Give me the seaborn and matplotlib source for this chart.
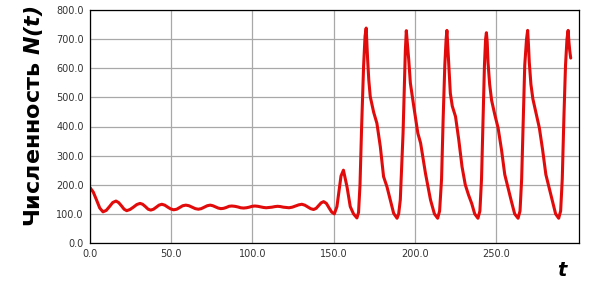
import matplotlib
matplotlib.use("Agg")
import matplotlib.pyplot as plt
import seaborn as sns

# Данные
t_vals = [0, 2, 4, 6, 8, 10, 12, 14, 16, 17.6, 19.3, 21, 22.6, 24.6, 26.7, 28.8,
          30.8, 32.4, 34.1, 35.8, 37.4, 39.1, 40.8, 42.5, 44.2, 46, 47.9, 49.7,
          51.5, 53.4, 55.3, 57.1, 59, 60.9, 62.9, 64.8, 66.7, 68.5, 70.4, 72.2,
          74, 75.6, 77.3, 78.9, 80.5, 82.2, 83.9, 85.6, 87.3, 89.1, 90.9, 92.7,
          94.5, 96.3, 98, 99.8, 101.5, 103.3, 105, 106.8, 108.5, 110.3, 112,
          113.8, 115.5, 117.3, 119, 120.8, 122.5, 124.5, 126.5, 128.5, 130.4,
          132.2, 134, 135.8, 137.6, 139.2, 140.7, 142.3, 143.8, 145.5, 147.1,
          148.8, 150.4, 152, 153.2, 154.5, 156, 158.2, 160.2, 162.2, 164.3,
          # цикл 1
          165.3, 166.2, 167.2, 168.4, 169.3, 170, 170.4, 170.9, 171.6, 172.5,
          174.6, 176.6, 178.7, 180.7, 182.8, 184.8, 186.9, 189,
          # цикл 2
          190, 191, 192.7, 194.1, 194.7, 195.3, 196.2, 197.2, 199.3, 201.8,
          203.5, 206.5, 209.6, 212, 214,
          # цикл 3
          215.2, 216.4, 217.4, 218.4, 219.2, 219.7, 220.2, 220.8, 221.8, 223,
          225, 227, 229, 231, 233, 235, 236.8, 238.8,
          # цикл 4
          240, 241, 242, 242.8, 243.5, 244, 244.5, 245, 246, 247.2, 249.2,
          251.2, 253.3, 255.3, 257.3, 259.3, 261.4, 263.5,
          # цикл 5
          264.7, 265.7, 266.7, 267.6, 268.7, 269.4, 269.9, 270.4, 271.4, 272.6,
          274.6, 276.6, 278.6, 280.6, 282.6, 284.6, 286.6, 288.5,
          # цикл 6
          289.7, 290.7, 291.7, 292.7, 293.6, 294.3, 294.8, 295.3, 295.9]

n_vals = [190, 175, 148, 120, 107, 112, 125, 139, 144, 139, 128, 116, 111, 115,
          123, 132, 136, 133, 125, 116, 113, 116, 123, 130, 133, 130, 123, 117,
          114, 116, 122, 128, 130, 128, 123, 118, 116, 118, 123, 128, 130, 128,
          124, 120, 118, 119, 122, 126, 127, 126, 124, 121, 120, 121, 123, 126,
          127, 126, 124, 122, 121, 122, 123, 125, 126, 125, 123, 122, 121, 123,
          127, 131, 133, 130, 124, 118, 115, 119, 128, 138, 142, 136, 121, 106,
          100, 125, 175, 230, 250, 193, 125, 100, 86,
          # цикл 1
          105, 200, 400, 606, 710, 738, 690, 629, 560, 503, 449, 411, 331, 228,
          193, 148, 102, 85,
          # цикл 2
          100, 148, 377, 659, 729, 690, 629, 549, 469, 377, 343, 239, 148, 100,
          85,
          # цикл 3
          110, 220, 430, 610, 700, 730, 680, 620, 514, 470, 434, 354, 262, 200,
          165, 135, 100, 85,
          # цикл 4
          110, 220, 430, 610, 700, 722, 690, 620, 545, 490, 440, 395, 320, 235,
          190, 145, 100, 85,
          # цикл 5
          110, 220, 430, 610, 700, 730, 680, 620, 545, 495, 445, 395, 320, 235,
          190, 145, 100, 85,
          # цикл 6
          110, 220, 430, 610, 700, 730, 690, 660, 635]

x_ticks = [0, 50, 100, 150, 200, 250]
y_ticks = [0, 100, 200, 300, 400, 500, 600, 700, 800]

sns.set_style("white")
plt.rcParams['font.family'] = ['DejaVu Sans']
plt.rcParams['mathtext.fontset'] = 'custom'
plt.rcParams['mathtext.rm'] = 'DejaVu Sans:bold:italic'
plt.rcParams['mathtext.it'] = 'DejaVu Sans:bold:italic'

fig = plt.figure(figsize=(5.9, 2.84), dpi=100)
ax = fig.add_axes([90 / 590, 1 - 243 / 284, (579 - 90) / 590, (243 - 10) / 284])

sns.lineplot(x=t_vals, y=n_vals, ax=ax, color="#e20b0b", linewidth=2.2,
             sort=False, estimator=None)

ax.set_xlim(0, 301)
ax.set_ylim(0, 800)
ax.set_xticks(x_ticks)
ax.set_yticks(y_ticks)
ax.set_xticklabels([f"{v:.1f}" for v in x_ticks])
ax.set_yticklabels([f"{v:.1f}" for v in y_ticks])
ax.tick_params(axis="both", labelsize=7, colors="#333333", length=3, width=0.8,
               pad=1.5, direction="out")
ax.tick_params(axis="both", color="black")
ax.grid(True, color="#a8a8a8", linewidth=0.9)
for s in ax.spines.values():
    s.set_color("black")
    s.set_linewidth(0.9)

fig.text(34 / 590, 1 - 116 / 284, "Численность $N(t)$", rotation=90,
         ha="center", va="center", fontsize=16, fontweight="bold", color="black")
fig.text(563 / 590, 1 - 270 / 284, "$t$", ha="center", va="center",
         fontsize=14, fontweight="bold", color="black")

fig.savefig("out.png", dpi=100)
